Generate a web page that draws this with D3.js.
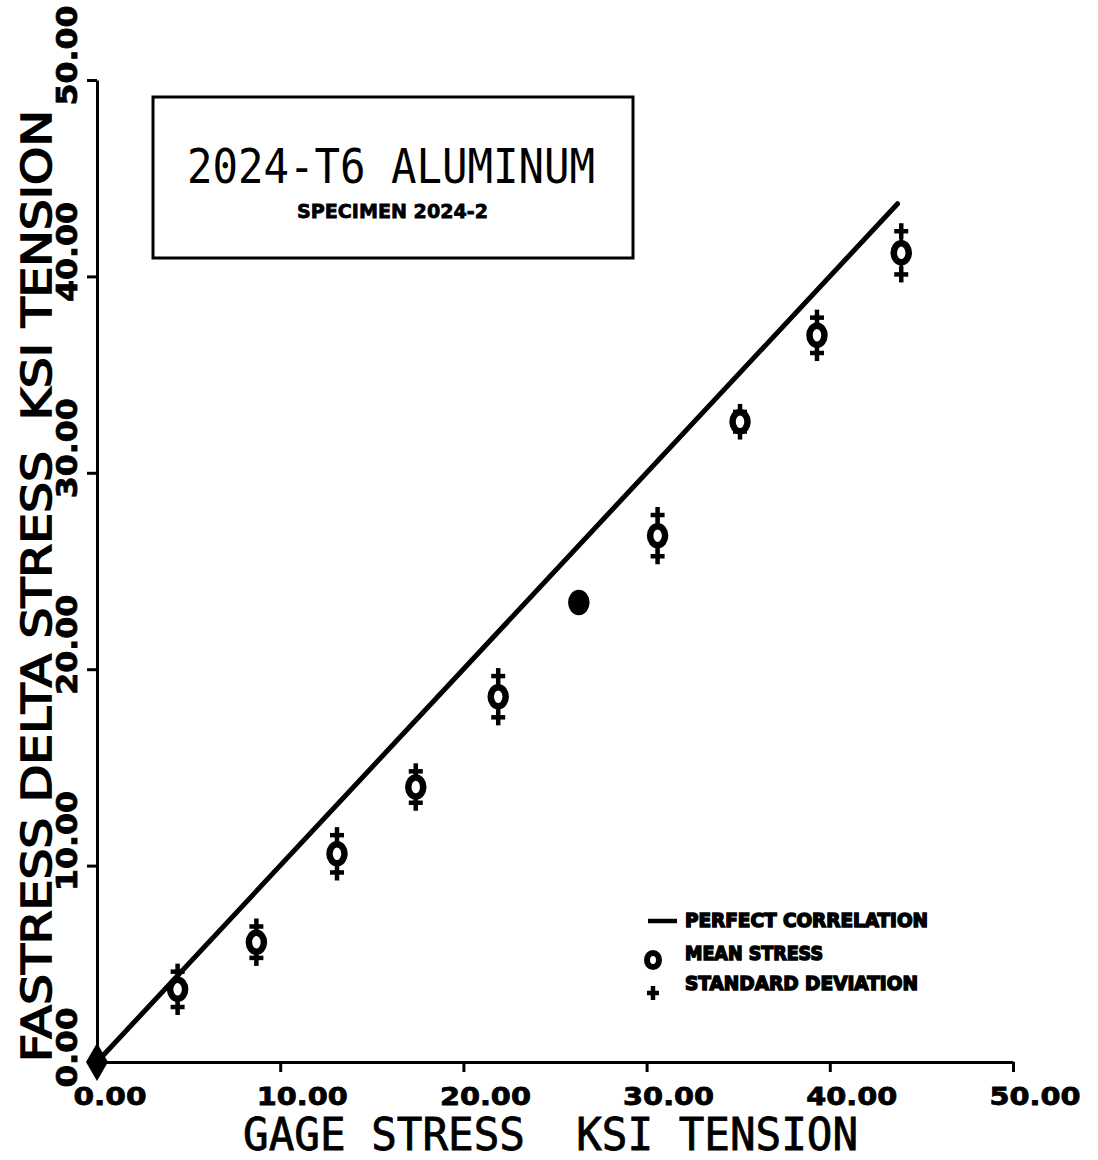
<!DOCTYPE html>
<html>
<head>
<meta charset="utf-8">
<script src="https://cdn.jsdelivr.net/npm/d3@7"></script>
<style>
  html, body { margin: 0; padding: 0; background: #fff; }
  svg { display: block; }
</style>
</head>
<body>
<svg id="chart" width="1098" height="1160"></svg>
<script>
// Gage stress (ksi) at each load step
const gageStress = [0, 4.4, 8.7, 13.1, 17.4, 21.9, 26.3, 30.6, 35.1, 39.3, 43.9];
// Mean FASTRESS delta stress (ksi) at each load step
const meanStress = [0, 3.7, 6.1, 10.6, 14.0, 18.6, 23.4, 26.8, 32.6, 37.0, 41.2];
// Standard deviation of the FASTRESS readings (ksi)
const stdDev = [0, 0.9, 0.8, 0.95, 0.8, 1.05, 0.2, 1.05, 0.5, 0.9, 1.1];
// Perfect-correlation reference line end points (ksi)
const perfectLine = [0, 43.7];
// Axis ticks
const tickValues = [0, 10, 20, 30, 40, 50];
const tickLabels = ["0.00", "10.00", "20.00", "30.00", "40.00", "50.00"];

const titleText = "2024-T6 ALUMINUM";
const subtitleText = "SPECIMEN 2024-2";
const xTitle = "GAGE STRESS  KSI TENSION";
const yTitle = "FASTRESS DELTA STRESS  KSI TENSION";
const legendItems = ["PERFECT CORRELATION", "MEAN STRESS", "STANDARD DEVIATION"];

const svg = d3.select("#chart");
const ink = "#000";

const x = d3.scaleLinear().domain([0, 50]).range([97, 1013]);
const y = d3.scaleLinear().domain([0, 50]).range([1062, 80]);

// ---- axes ----
const xAxis = d3.axisBottom(x)
  .tickValues(tickValues)
  .tickSize(10)
  .tickSizeOuter(0)
  .tickFormat((d, i) => tickLabels[i]);

const gx = svg.append("g").attr("transform", `translate(0,${y(0)})`).call(xAxis);
gx.select(".domain").attr("stroke", ink).attr("stroke-width", 3);
gx.selectAll(".tick line").attr("stroke", ink).attr("stroke-width", 3);
gx.selectAll(".tick text")
  .attr("fill", ink)
  .attr("stroke", ink).attr("stroke-width", 0.8)
  .attr("y", 0).attr("dy", null)
  .attr("x", -24)
  .attr("transform", "translate(0,43)")
  .attr("text-anchor", "start")
  .attr("font-family", "DejaVu Sans, sans-serif")
  .attr("font-weight", "bold")
  .attr("font-size", 25)
  .attr("textLength", (d, i) => tickLabels[i].length === 4 ? 73 : 91)
  .attr("lengthAdjust", "spacingAndGlyphs");

const yAxis = d3.axisLeft(y)
  .tickValues(tickValues)
  .tickSize(10)
  .tickSizeOuter(0)
  .tickFormat((d, i) => tickLabels[i]);

const gy = svg.append("g").attr("transform", `translate(${x(0)},0)`).call(yAxis);
gy.select(".domain").attr("stroke", ink).attr("stroke-width", 3);
gy.selectAll(".tick line").attr("stroke", ink).attr("stroke-width", 3);
gy.selectAll(".tick text")
  .attr("fill", ink)
  .attr("stroke", ink).attr("stroke-width", 0.8)
  .attr("x", 0).attr("y", 0).attr("dy", null)
  .attr("transform", "translate(-20,25) rotate(-90)")
  .attr("text-anchor", "start")
  .attr("font-family", "DejaVu Sans, sans-serif")
  .attr("font-weight", "bold")
  .attr("font-size", 29)
  .attr("textLength", (d, i) => tickLabels[i].length === 4 ? 80 : 100)
  .attr("lengthAdjust", "spacingAndGlyphs");

// ---- axis titles ----
svg.append("text")
  .attr("x", 243).attr("y", 1150)
  .attr("font-family", "DejaVu Sans Mono, monospace")
  .attr("font-size", 44)
  .attr("fill", ink)
  .attr("stroke", ink).attr("stroke-width", 0.8)
  .attr("textLength", 615)
  .attr("lengthAdjust", "spacingAndGlyphs")
  .style("white-space", "pre")
  .text(xTitle);

svg.append("text")
  .attr("transform", "translate(51,1062) rotate(-90)")
  .attr("font-family", "DejaVu Sans, sans-serif")
  .attr("font-size", 41)
  .attr("fill", ink)
  .attr("stroke", ink).attr("stroke-width", 1.6)
  .attr("textLength", 952)
  .attr("lengthAdjust", "spacingAndGlyphs")
  .style("white-space", "pre")
  .text(yTitle);

// ---- title box ----
svg.append("rect")
  .attr("x", 153).attr("y", 97)
  .attr("width", 480).attr("height", 161)
  .attr("fill", "none").attr("stroke", ink).attr("stroke-width", 3);

svg.append("text")
  .attr("x", 187).attr("y", 183)
  .attr("font-family", "DejaVu Sans Mono, monospace")
  .attr("font-size", 48)
  .attr("fill", ink)
  .attr("textLength", 408)
  .attr("lengthAdjust", "spacingAndGlyphs")
  .text(titleText);

svg.append("text")
  .attr("x", 297).attr("y", 218)
  .attr("font-family", "DejaVu Sans, sans-serif")
  .attr("font-weight", "bold")
  .attr("font-size", 20)
  .attr("fill", ink)
  .attr("stroke", ink).attr("stroke-width", 0.8)
  .attr("textLength", 191)
  .attr("lengthAdjust", "spacingAndGlyphs")
  .text(subtitleText);

// ---- perfect correlation line ----
svg.append("line")
  .attr("x1", x(perfectLine[0])).attr("y1", y(perfectLine[0]))
  .attr("x2", x(perfectLine[1])).attr("y2", y(perfectLine[1]))
  .attr("stroke", ink).attr("stroke-width", 5).attr("stroke-linecap", "round");

// ---- data markers ----
const pts = gageStress.map((g, i) => ({ g, m: meanStress[i], s: stdDev[i] }));

function plus(sel, px, py, h) {
  sel.append("line").attr("x1", px - h).attr("x2", px + h).attr("y1", py).attr("y2", py)
    .attr("stroke", ink).attr("stroke-width", 4.5);
  sel.append("line").attr("x1", px).attr("x2", px).attr("y1", py - h - 1).attr("y2", py + h + 1)
    .attr("stroke", ink).attr("stroke-width", 4.5);
}

const mk = svg.append("g");
pts.forEach(p => {
  const g = mk.append("g");
  const cx = x(p.g), cy = y(p.m);
  if (p.s === 0) {
    // load origin: solid diamond
    g.append("path")
      .attr("d", d3.symbol(d3.symbolDiamond, 420)())
      .attr("transform", `translate(${cx},${cy})`)
      .attr("fill", ink);
    return;
  }
  // connector between the deviation marks
  g.append("line")
    .attr("x1", cx).attr("x2", cx)
    .attr("y1", y(p.m + p.s)).attr("y2", y(p.m - p.s))
    .attr("stroke", ink).attr("stroke-width", 3.5);
  plus(g, cx, y(p.m + p.s), 7);
  plus(g, cx, y(p.m - p.s), 7);
  g.append("ellipse")
    .attr("cx", cx).attr("cy", cy)
    .attr("rx", 7.5).attr("ry", 9.5)
    .attr("fill", p.s < 0.3 ? ink : "#fff")
    .attr("stroke", ink).attr("stroke-width", 6.5);
});

// ---- legend ----
const lg = svg.append("g");
const legendBaselines = [927, 960, 990];
lg.append("line")
  .attr("x1", 648).attr("x2", 677).attr("y1", 921).attr("y2", 921)
  .attr("stroke", ink).attr("stroke-width", 4.5);
lg.append("ellipse")
  .attr("cx", 653).attr("cy", 960).attr("rx", 6).attr("ry", 7)
  .attr("fill", "#fff").attr("stroke", ink).attr("stroke-width", 6);
plus(lg, 653, 993, 6);
const legendWidths = [243, 138, 233];
legendItems.forEach((t, i) => {
  lg.append("text")
    .attr("x", 685).attr("y", legendBaselines[i])
    .attr("font-family", "DejaVu Sans, sans-serif")
    .attr("font-weight", "bold")
    .attr("font-size", 20)
    .attr("fill", ink)
    .attr("stroke", ink).attr("stroke-width", 1.6)
    .attr("textLength", legendWidths[i])
    .attr("lengthAdjust", "spacingAndGlyphs")
    .text(t);
});
</script>
</body>
</html>
